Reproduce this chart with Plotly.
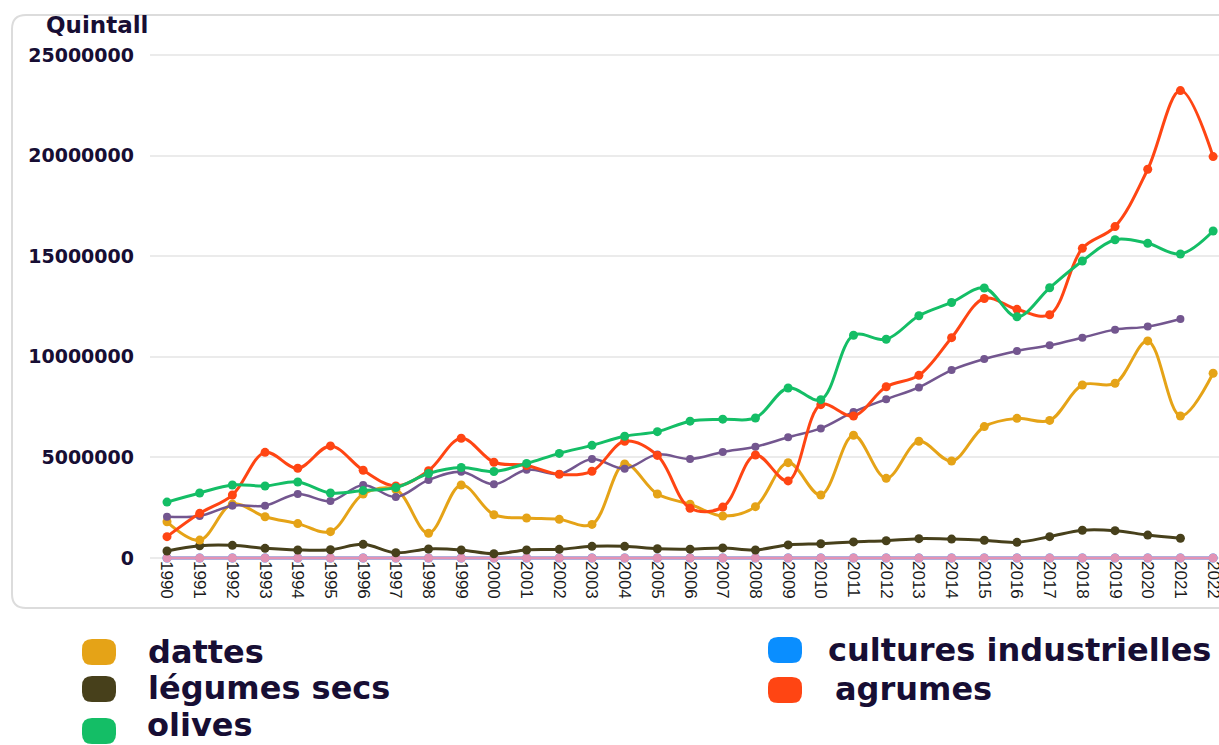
import plotly.graph_objects as go

years = list(range(1990, 2023))
year_labels = [str(y) for y in years]

dattes = [1.80, 0.89, 2.68, 2.05, 1.71, 1.31, 3.18, 3.40, 1.23, 3.63, 2.15, 1.99, 1.92, 1.67, 4.67,
          3.18, 2.67, 2.09, 2.55, 4.74, 3.13, 6.10, 3.96, 5.80, 4.82, 6.53, 6.94, 6.84, 8.60, 8.68,
          10.79, 7.06, 9.18]
legumes_secs = [0.35, 0.61, 0.63, 0.48, 0.40, 0.41, 0.68, 0.26, 0.45, 0.40, 0.21, 0.40, 0.43, 0.58, 0.58,
                0.46, 0.44, 0.50, 0.40, 0.65, 0.71, 0.80, 0.86, 0.96, 0.94, 0.88, 0.78, 1.06, 1.38, 1.36,
                1.14, 0.98, None]
olives = [2.78, 3.23, 3.63, 3.58, 3.78, 3.23, 3.35, 3.50, 4.20, 4.50, 4.30, 4.70, 5.20, 5.60, 6.05,
          6.28, 6.80, 6.90, 6.96, 8.45, 7.87, 11.07, 10.87, 12.04, 12.70, 13.42, 11.99, 13.43, 14.76, 15.82,
          15.64, 15.11, 16.25]
agrumes = [1.06, 2.22, 3.13, 5.25, 4.46, 5.57, 4.36, 3.58, 4.34, 5.95, 4.76, 4.60, 4.16, 4.31, 5.80,
           5.10, 2.47, 2.53, 5.12, 3.83, 7.62, 7.06, 8.51, 9.08, 10.95, 12.90, 12.36, 12.09, 15.39, 16.47,
           19.32, 23.23, 19.95]
serie_violette = [2.05, 2.09, 2.60, 2.60, 3.18, 2.83, 3.63, 3.03, 3.88, 4.29, 3.66, 4.39, 4.17, 4.92, 4.44,
                  5.15, 4.92, 5.27, 5.53, 6.00, 6.44, 7.26, 7.89, 8.48, 9.34, 9.89, 10.29, 10.57, 10.95, 11.35,
                  11.50, 11.88, None]
cultures_industrielles = [0.0] * 33
serie_rose = [0.0] * 33

def m(vals):
    return [None if v is None else v * 1_000_000 for v in vals]

y_ticks = [0, 5000000, 10000000, 15000000, 20000000, 25000000]
y_tick_labels = [str(v) for v in y_ticks]

W, H = 1219, 745
ML, MR, MT, MB = 150, 0, 45, 745 - 560
PW, PH = W - ML - MR, H - MT - MB

def px(x):
    return (x - ML) / PW

def py(y):
    return (H - MB - y) / PH

def rrect(x0, y0, x1, y1, r):
    rx, ry = r / PW, r / PH
    X0, X1 = px(x0), px(x1)
    Y0, Y1 = py(y0), py(y1)
    return (f"M {X0+rx},{Y0} L {X1-rx},{Y0} Q {X1},{Y0} {X1},{Y0-ry} "
            f"L {X1},{Y1+ry} Q {X1},{Y1} {X1-rx},{Y1} L {X0+rx},{Y1} "
            f"Q {X0},{Y1} {X0},{Y1+ry} L {X0},{Y0-ry} Q {X0},{Y0} {X0+rx},{Y0} Z")

colors = {
    "dattes": "#E5A317",
    "legumes": "#47401B",
    "olives": "#14BE66",
    "agrumes": "#FF4513",
    "violet": "#73568F",
    "rose": "#E293B5",
    "cultures": "#0A8EFF",
}

fig = go.Figure()

def add(name, vals, color, width=3, size=9):
    fig.add_trace(go.Scatter(
        x=years, y=m(vals), name=name, mode="lines+markers",
        line=dict(color=color, width=width, shape="spline", smoothing=1),
        marker=dict(color=color, size=size),
        showlegend=False, cliponaxis=False,
    ))

add("cultures industrielles", cultures_industrielles, colors["cultures"])
add("rose", serie_rose, colors["rose"], width=3, size=9)
add("légumes secs", legumes_secs, colors["legumes"])
add("dattes", dattes, colors["dattes"])
add("violet", serie_violette, colors["violet"], width=2.5, size=8)
add("agrumes", agrumes, colors["agrumes"])
add("olives", olives, colors["olives"])

shapes = []
shapes.append(dict(type="path", xref="paper", yref="paper",
                   path=rrect(12, 15, 1240, 608, 14),
                   line=dict(color="#dcdcdc", width=2), layer="below"))

text_color = "#170E34"
# label, colour, swatch centre x, swatch centre y, text left x, text centre y
legend_items = [
    ("dattes", colors["dattes"], 99, 652, 146, 652),
    ("légumes secs", colors["legumes"], 99, 689, 146, 688),
    ("olives", colors["olives"], 99, 731, 146, None),
    ("cultures industrielles", colors["cultures"], 785, 650, 826, 650),
    ("agrumes", colors["agrumes"], 785, 690, 833, 689),
]
annotations = []
for label, col, cx, cy, tx, ty in legend_items:
    shapes.append(dict(type="path", xref="paper", yref="paper",
                       path=rrect(cx - 17, cy - 13, cx + 17, cy + 13, 10),
                       fillcolor=col, line=dict(width=0)))
    font = dict(family="DejaVu Sans", size=32, color=text_color, weight="bold")
    if ty is None:
        annotations.append(dict(x=px(tx), y=py(745), xref="paper", yref="paper",
                                text=label, showarrow=False, xanchor="left", yanchor="bottom",
                                borderpad=0, font=font))
    else:
        annotations.append(dict(x=px(tx), y=py(ty), xref="paper", yref="paper",
                                text=label, showarrow=False, xanchor="left", yanchor="middle",
                                font=font))

annotations.append(dict(x=px(44), y=py(25), xref="paper", yref="paper", text="Quintall",
                        showarrow=False, xanchor="left", yanchor="middle",
                        font=dict(family="DejaVu Sans", size=23, color=text_color, weight="bold")))

fig.update_layout(
    width=W, height=H,
    margin=dict(l=ML, r=MR, t=MT, b=MB, autoexpand=False),
    paper_bgcolor="white", plot_bgcolor="white",
    showlegend=False,
    shapes=shapes, annotations=annotations,
    xaxis=dict(range=[1989.48, 2022.18], tickvals=years, ticktext=year_labels,
               tickangle=90, showgrid=False, zeroline=False, showline=False,
               ticklabeloverflow="allow", automargin=False,
               tickfont=dict(family="Liberation Sans Narrow, Liberation Sans", size=17, color="#1a1a1a")),
    yaxis=dict(range=[-99400, 25497000], tickvals=y_ticks, ticktext=y_tick_labels,
               showgrid=True, gridcolor="#ebebeb", gridwidth=1.5, zeroline=False, showline=False,
               ticklabelstandoff=15, automargin=False,
               tickfont=dict(family="DejaVu Sans", size=19, color=text_color, weight="bold")),
)

fig.write_html(
    "out.html",
    config={"displayModeBar": False},
    post_script="document.documentElement.style.margin='0';document.body.style.margin='0';"
                "document.documentElement.style.overflow='hidden';document.body.style.overflow='hidden';",
)
